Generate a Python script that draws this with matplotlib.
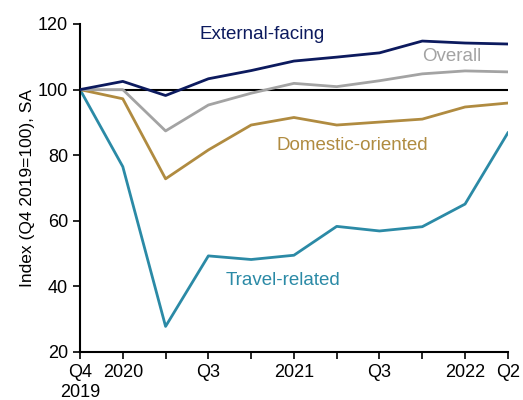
import matplotlib as mpl
mpl.use('Agg')
import matplotlib.pyplot as plt

## Data (index, Q4 2019 = 100)
quarters = ['Q4 2019', 'Q1 2020', 'Q2 2020', 'Q3 2020', 'Q4 2020', 'Q1 2021',
            'Q2 2021', 'Q3 2021', 'Q4 2021', 'Q1 2022', 'Q2 2022']
tick_labels = ['Q4\n2019', '2020', '', 'Q3', '', '2021', '', 'Q3', '', '2022', 'Q2']

external = [100, 102.5, 98.2, 103.3, 105.8, 108.7, 109.9, 111.2, 114.8, 114.2, 113.9]
overall = [100, 100.0, 87.4, 95.3, 98.9, 101.9, 100.9, 102.7, 104.8, 105.7, 105.4]
domestic = [100, 97.2, 72.8, 81.6, 89.2, 91.5, 89.2, 90.1, 91.0, 94.7, 95.9]
travel = [100, 76.5, 27.8, 49.3, 48.2, 49.5, 58.3, 56.9, 58.2, 65.1, 86.8]

plt.rcParams['font.family'] = ['Liberation Sans', 'DejaVu Sans']

fig = plt.figure(figsize=(5.23, 4.0), dpi=100)
ax = fig.add_axes([0.153, 0.12, 0.818, 0.82])

x = list(range(len(quarters)))

ax.axhline(100, color='black', lw=1.5, zorder=1)

ax.plot(x, travel, color='#2b8aa6', lw=2, zorder=2)
ax.plot(x, domestic, color='#b08b40', lw=2, zorder=2)
ax.plot(x, overall, color='#a3a3a3', lw=2, zorder=2)
ax.plot(x, external, color='#0c1a5e', lw=2, zorder=3)

ax.text(4.25, 116.9, 'External-facing', color='#0c1a5e', fontsize=13.5, ha='center', va='center')
ax.text(8.7, 110, 'Overall', color='#a3a3a3', fontsize=13.5, ha='center', va='center')
ax.text(6.36, 83, 'Domestic-oriented', color='#b08b40', fontsize=13.5, ha='center', va='center')
ax.text(4.74, 41.7, 'Travel-related', color='#2b8aa6', fontsize=13.5, ha='center', va='center')

ax.set_xlim(0, len(quarters) - 1)
ax.set_ylim(20, 120)
ax.set_yticks(range(20, 121, 20))
ax.set_xticks(x)
ax.set_xticklabels(tick_labels, linespacing=1.25)
ax.set_ylabel('Index (Q4 2019=100), SA', fontsize=12.5, labelpad=2)

ax.spines['top'].set_visible(False)
ax.spines['right'].set_visible(False)
ax.spines['left'].set_linewidth(1.5)
ax.spines['bottom'].set_linewidth(1.5)
ax.tick_params(axis='both', labelsize=13, width=1.2, length=5, direction='out')

fig.savefig('out.png', dpi=100)
